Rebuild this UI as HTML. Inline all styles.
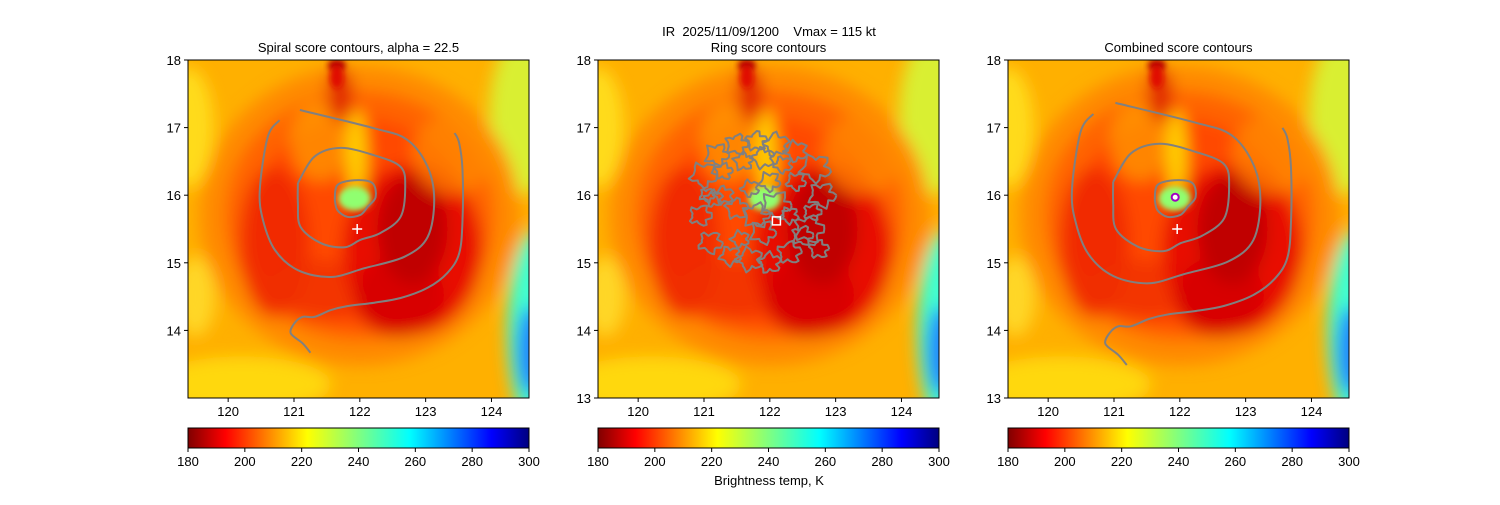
<!DOCTYPE html>
<html><head><meta charset="utf-8"><style>
html,body{margin:0;padding:0;background:#fff;}
svg text{font-family:"Liberation Sans","DejaVu Sans",sans-serif;fill:#000;white-space:pre;}
</style></head><body>
<svg id="fig" width="1500" height="500" viewBox="0 0 1500 500" xmlns="http://www.w3.org/2000/svg" xml:space="preserve">
<defs>
<filter id="blur" x="-20%" y="-20%" width="140%" height="140%"><feGaussianBlur stdDeviation="8"/></filter>
<filter id="blur2"><feGaussianBlur stdDeviation="3"/></filter>
<linearGradient id="jetr" x1="0" x2="1" y1="0" y2="0">
<stop offset="0" stop-color="#800000"/><stop offset="0.11" stop-color="#ff0000"/><stop offset="0.35" stop-color="#ffff00"/><stop offset="0.5" stop-color="#80ff80"/><stop offset="0.65" stop-color="#00ffff"/><stop offset="0.89" stop-color="#0000ff"/><stop offset="1" stop-color="#000080"/>
</linearGradient>
</defs>
<text x="769" y="36" text-anchor="middle" font-size="13">IR  2025/11/09/1200    Vmax = 115 kt</text>
<text x="769" y="485" text-anchor="middle" font-size="13">Brightness temp, K</text>
</svg>
<script>
const NS="http://www.w3.org/2000/svg";
const svg=document.getElementById('fig');
const panelLefts=[188,598,1008];
const panelTitles=["Spiral score contours, alpha = 22.5","Ring score contours","Combined score contours"];
const xTicks=[120,121,122,123,124];
const yTicks=[13,14,15,16,17,18];
const cbTicks=[180,200,220,240,260,280,300];
const lonMin=119.39, lonMax=124.57, latMin=13, latMax=18;
const tMin=180, tMax=300;
const armLon=[121.25,121.13,120.95,121.01,121.13,121.31,121.56,121.81,122.22,122.62,123.03,123.33,123.51,123.56,123.56,123.51,123.44];
const armLat=[13.67,13.81,13.96,14.11,14.20,14.20,14.30,14.36,14.41,14.48,14.63,14.85,15.14,15.63,16.37,16.77,16.92];
const c2Lon=[121.09,122.22,122.72,123.03,123.13,123.03,122.68,122.07,121.56,121.06,120.71,120.53,120.48,120.60,120.78];
const c2Lat=[17.26,16.99,16.82,16.42,15.93,15.38,15.09,14.92,14.79,14.89,15.19,15.63,16.08,16.86,17.11];
const c3Lon=[121.06,121.31,121.71,122.22,122.62,122.69,122.62,122.31,122.01,121.77,121.41,121.10,121.06,121.06];
const c3Lat=[16.18,16.57,16.70,16.59,16.42,16.12,15.68,15.44,15.34,15.23,15.29,15.53,15.88,16.18];
const c4Lon=[121.62,121.66,121.92,122.19,122.24,122.12,122.01,121.81,121.66,121.62];
const c4Lat=[15.93,16.15,16.22,16.18,15.97,15.83,15.71,15.68,15.78,15.93];
// ring score: many small noisy contour loops (centre lon, lat, radius deg)
const ringLon=[121.0,121.2,121.5,121.8,122.1,122.4,122.7,122.8,122.6,122.3,122.0,121.7,121.4,121.1,120.95,121.3,121.6,121.9,122.2,122.4,122.1,121.8,121.5,121.3,121.7,122.0,121.9,122.5,122.75,121.15,121.55,122.3,121.05,122.65];
const ringLat=[16.3,16.6,16.75,16.8,16.75,16.65,16.4,16.0,15.5,15.15,15.0,15.05,15.1,15.3,15.7,16.35,16.5,16.55,16.45,16.2,15.85,15.7,15.8,16.0,16.1,16.2,15.45,15.4,15.2,15.95,15.35,15.7,16.0,15.75];
const ringR=[0.18,0.16,0.15,0.14,0.17,0.15,0.2,0.18,0.2,0.16,0.15,0.17,0.14,0.16,0.15,0.12,0.13,0.15,0.12,0.13,0.2,0.18,0.15,0.13,0.12,0.14,0.17,0.14,0.13,0.12,0.12,0.12,0.1,0.12];
const bestLon=[121.96,122.1,121.96], bestLat=[15.5,15.62,15.5];
const eyeLon=121.93, eyeLat=15.97;

function el(tag,attrs,parent){const e=document.createElementNS(NS,tag);for(const k in attrs)e.setAttribute(k,attrs[k]);(parent||svg).appendChild(e);return e;}
function smooth(pts){let d='M'+pts[0][0].toFixed(1)+','+pts[0][1].toFixed(1);
  for(let i=0;i<pts.length-1;i++){const p0=pts[Math.max(0,i-1)],p1=pts[i],p2=pts[i+1],p3=pts[Math.min(pts.length-1,i+2)];
    d+='C'+(p1[0]+(p2[0]-p0[0])/6).toFixed(1)+','+(p1[1]+(p2[1]-p0[1])/6).toFixed(1)+' '+(p2[0]-(p3[0]-p1[0])/6).toFixed(1)+','+(p2[1]-(p3[1]-p1[1])/6).toFixed(1)+' '+p2[0].toFixed(1)+','+p2[1].toFixed(1);}
  return d;}
const top0=60,H=338,W=341;
for(let p=0;p<3;p++){
  const L=panelLefts[p];
  const X=v=>L+(v-lonMin)/(lonMax-lonMin)*W;
  const Y=v=>top0+(latMax-v)/(latMax-latMin)*H;
  const g=el('g',{});
  
  
  const cp=el('clipPath',{id:'cp'+p},g);el('rect',{x:L,y:top0,width:W,height:H},cp);
  const img=el('g',{'clip-path':'url(#cp'+p+')'},g);
  
  
  el('rect',{x:L,y:top0,width:W,height:H,fill:'#ffb000'},img);
  const b=el('g',{filter:'url(#blur)'},img);
  const E=(lon,lat,rx,ry,c,o)=>el('ellipse',{cx:X(lon),cy:Y(lat),rx:rx,ry:ry,fill:c,opacity:o||1},b);
  E(124.5,17.2,35,80,'#d0ff40',0.8);E(124.7,14.0,30,100,'#40ffd0');E(124.6,13.7,14,45,'#2080ff');
  E(119.4,17.0,25,60,'#ffe020',0.9);E(120.2,13.2,90,28,'#ffd810');E(119.5,14.5,20,40,'#ffe030',0.8);
  E(122.0,15.7,160,150,'#ff8a00');E(122.0,15.7,135,125,'#ff6400');E(122.0,15.6,110,105,'#ff4800');
  E(120.7,15.3,35,75,'#f02800',0.9);E(121.4,14.6,50,30,'#f03000',0.8);
  E(122.8,15.2,70,85,'#e81000');E(122.6,14.5,45,40,'#d80000');
  E(122.8,15.5,35,55,'#c00000');E(121.4,16.8,30,40,'#ffa000',0.7);E(121.95,16.6,10,45,'#ffe000',0.9);
  E(121.7,17.5,12,28,'#e02000');E(123.4,16.6,40,40,'#ff8c00',0.7);
  const b2=el('g',{filter:'url(#blur2)'},img);
  el('ellipse',{cx:X(121.92),cy:Y(15.95),rx:16,ry:12,fill:'#90ff70'},b2);
  el('ellipse',{cx:X(121.65),cy:Y(17.92),rx:9,ry:6,fill:'#b00000'},b2);
  el('ellipse',{cx:X(121.65),cy:Y(17.75),rx:7,ry:12,fill:'#e01000'},b2);
  const ln=(lons,lats,w,name)=>{const pts=lons.map((v,i)=>[X(v),Y(lats[i])]);const e=el('path',{d:smooth(pts),fill:'none',stroke:'#808080','stroke-width':w,'stroke-linejoin':'round'},img);
    
    };
  if(p!==1){
    const sc=p===2?1.08:1;
    const tr=arr=>arr.map(v=>121.95+(v-121.95)*sc);
    const trl=arr=>arr.map(v=>15.95+(v-15.95)*sc);
    ln(tr(armLon),trl(armLat),2,'spiral-contour-outer');ln(tr(c2Lon),trl(c2Lat),2,'spiral-contour-2');
    ln(tr(c3Lon),trl(c3Lat),2,'spiral-contour-3');ln(c4Lon,c4Lat,2,'spiral-contour-inner');
  } else {
    const rg=el('g',{},img);
    
    
    ringLon.forEach((lon,i)=>{
      const cx=X(lon),cy=Y(ringLat[i]),r=ringR[i]*66;const pts=[];
      for(let k=0;k<=24;k++){const a=k/24*Math.PI*2;const rr=r*(1+0.25*Math.sin(5*a+i)+0.12*Math.cos(9*a+2*i));pts.push([cx+rr*Math.cos(a),cy+rr*0.9*Math.sin(a)]);}
      let d='';pts.forEach((q,k)=>d+=(k?'L':'M')+q[0].toFixed(1)+','+q[1].toFixed(1));
      const e=el('path',{d:d,fill:'none',stroke:'#808080','stroke-width':2,'stroke-linejoin':'round'},rg);
      
      
    });
    const sq=el('rect',{x:X(bestLon[1])-4,y:Y(bestLat[1])-4,width:8,height:8,fill:'none',stroke:'#fff','stroke-width':1.5},img);
    
    
  }
  if(p!==1){
    const px=X(bestLon[p]),py=Y(bestLat[p]);
    const pl=el('path',{d:`M${px-5},${py}H${px+5}M${px},${py-5}V${py+5}`,stroke:'#fff','stroke-width':1.5},img);
    
    
  }
  if(p===2){
    const c=el('circle',{cx:X(eyeLon),cy:Y(eyeLat),r:3.5,fill:'#fff',stroke:'#a000c0','stroke-width':2},img);
    
    
  }
  el('rect',{x:L,y:top0,width:W,height:H,fill:'none',stroke:'#000','stroke-width':1},g);
  const t=el('text',{x:L+W/2,y:52,'text-anchor':'middle','font-size':13},g);t.textContent=panelTitles[p];
  
  
  xTicks.forEach(v=>{const x=X(v);el('line',{x1:x,x2:x,y1:top0+H,y2:top0+H+4,stroke:'#000'},g);const tx=el('text',{x:x,y:top0+H+18,'text-anchor':'middle','font-size':13},g);tx.textContent=v;
    
    });
  yTicks.forEach(v=>{if(p===0&&v===13)return;const y=Y(v);el('line',{x1:L-4,x2:L,y1:y,y2:y,stroke:'#000'},g);const ty=el('text',{x:L-7,y:y+5,'text-anchor':'end','font-size':13},g);ty.textContent=v;
    
    });
  const cb=el('g',{},g);
  
  
  el('rect',{x:L,y:428,width:W,height:20,fill:'url(#jetr)',stroke:'#000','stroke-width':1},cb);
  const C=v=>L+(v-tMin)/(tMax-tMin)*W;
  cbTicks.forEach(v=>{const x=C(v);el('line',{x1:x,x2:x,y1:448,y2:452,stroke:'#000'},cb);const tc=el('text',{x:x,y:466,'text-anchor':'middle','font-size':13},cb);tc.textContent=v;
    
    });
}
</script>
</body></html>
